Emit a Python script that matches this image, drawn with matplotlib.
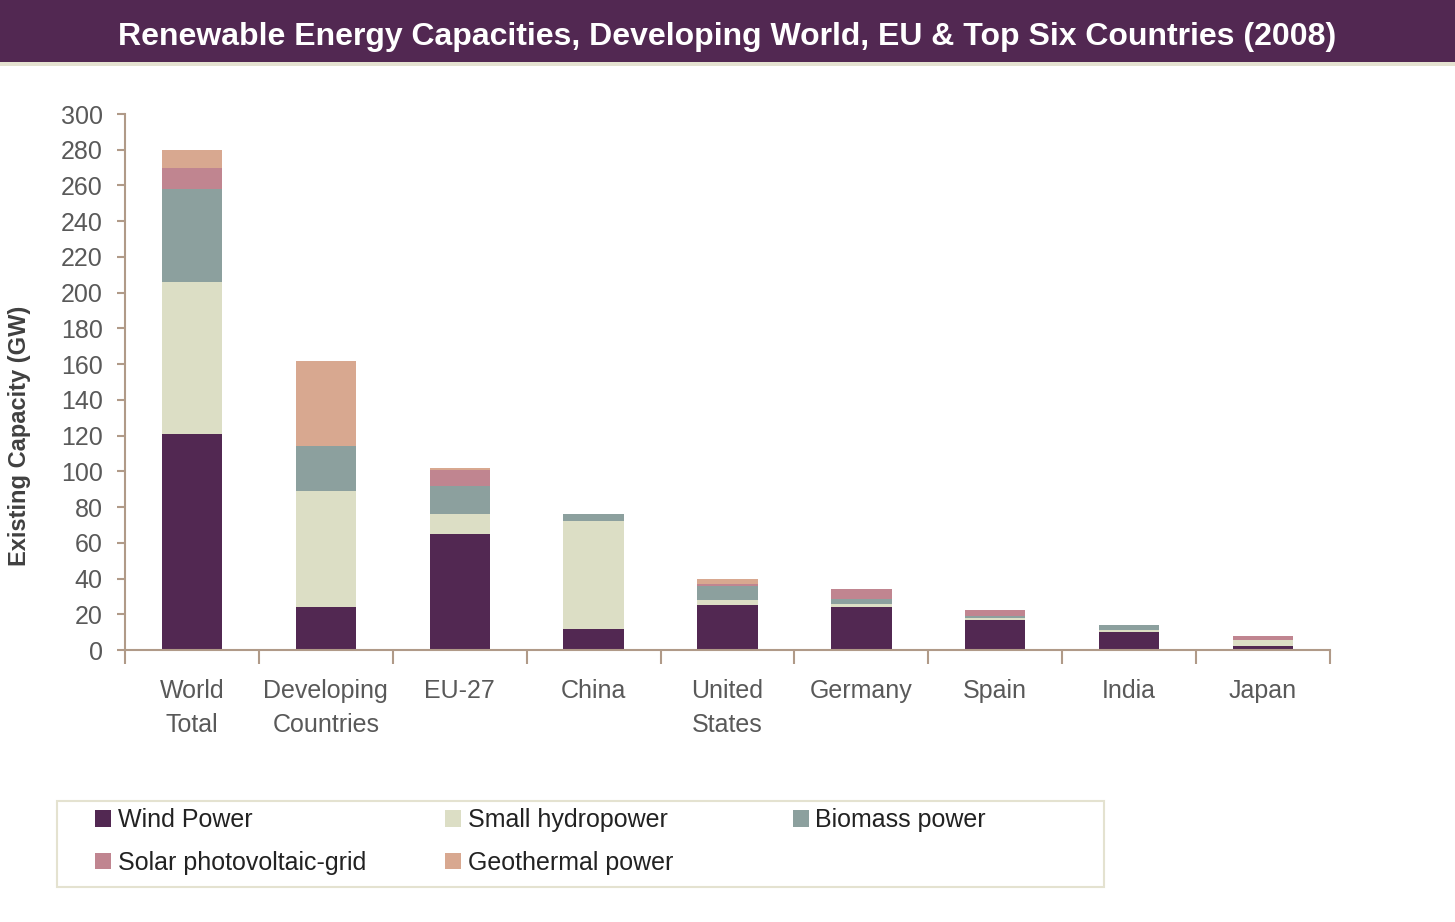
import numpy as np
import matplotlib.pyplot as plt
from matplotlib.patches import Rectangle

plt.rcParams['font.family'] = ['Liberation Sans', 'DejaVu Sans']

categories = ["World\nTotal", "Developing\nCountries", "EU-27", "China", "United\nStates",
              "Germany", "Spain", "India", "Japan"]
wind = [121, 24, 65, 12, 25, 24, 17, 10, 2]
small_hydro = [85, 65, 11, 60, 3, 2, 1, 1, 3.5]
biomass = [52, 25, 16, 4, 8, 2.5, 1, 3, 0]
solar = [12, 0, 9, 0, 1, 5.5, 3.5, 0, 2.5]
geothermal = [10, 48, 1, 0, 2.5, 0, 0, 0, 0]

series = [
    ("Wind Power", wind, "#522852"),
    ("Small hydropower", small_hydro, "#dcdec5"),
    ("Biomass power", biomass, "#8ca09e"),
    ("Solar photovoltaic-grid", solar, "#c08590"),
    ("Geothermal power", geothermal, "#d8a890"),
]

W, H = 1455, 922
fig = plt.figure(figsize=(W / 100, H / 100), dpi=100)

# title band
fig.patches.append(Rectangle((0, 1 - 62 / H), 1, 62 / H, transform=fig.transFigure,
                             facecolor="#522852", edgecolor="none", zorder=0))
fig.patches.append(Rectangle((0, 1 - 66 / H), 1, 4 / H, transform=fig.transFigure,
                             facecolor="#e4e2d0", edgecolor="none", zorder=0))
fig.text(0.5, 1 - 37 / H, "Renewable Energy Capacities, Developing World, EU & Top Six Countries (2008)",
         ha="center", va="center", color="white", fontsize=23, fontweight="bold")

ax = fig.add_axes([125 / W, 1 - 650 / H, 1205 / W, 536 / H])
x = np.arange(len(categories))
bottom = np.zeros(len(categories))
handles = {}
for name, vals, col in series:
    vals = np.array(vals, dtype=float)
    b = ax.bar(x, vals, 0.45, bottom=bottom, color=col, label=name, zorder=2)
    handles[name] = b
    bottom += vals

axis_col = "#b09a88"
ax.set_xlim(-0.5, len(categories) - 0.5)
ax.set_ylim(0, 300)
ax.set_yticks(np.arange(0, 301, 20))
ax.tick_params(axis="y", colors=axis_col, labelcolor="#595959", labelsize=18,
               length=6, width=1.5, pad=10)
ax.set_xticks(x)
ax.set_xticklabels(categories, fontsize=18, color="#595959", linespacing=1.5)
ax.tick_params(axis="x", which="major", length=0, pad=21)
ax.set_xticks(np.arange(-0.5, len(categories), 1), minor=True)
ax.tick_params(axis="x", which="minor", length=10, width=1.5, color=axis_col)
for s in ["top", "right"]:
    ax.spines[s].set_visible(False)
for s in ["left", "bottom"]:
    ax.spines[s].set_color(axis_col)
    ax.spines[s].set_linewidth(1.5)
ax.set_ylabel("Existing Capacity (GW)", fontsize=17, fontweight="bold", color="#404040")
ax.yaxis.set_label_coords(-94 / 1205, 0.40)

# legend frame and three single-column legends
fig.patches.append(Rectangle((57 / W, 1 - 887 / H), 1047 / W, 86 / H, transform=fig.transFigure,
                             facecolor="white", edgecolor="#e4e2d0", linewidth=1.5, zorder=1))
columns = [["Wind Power", "Solar photovoltaic-grid"],
           ["Small hydropower", "Geothermal power"],
           ["Biomass power"]]
col_x = [95, 445, 793]
for cx, names in zip(col_x, columns):
    leg = fig.legend([handles[n] for n in names], names, loc="upper left",
                     bbox_to_anchor=(cx / W, 1 - 808 / H), fontsize=18, frameon=False,
                     handlelength=0.65, handleheight=0.65, handletextpad=0.25,
                     borderaxespad=0, borderpad=0, labelspacing=0.75)
    for t in leg.get_texts():
        t.set_color("#222222")

fig.savefig("out.png", dpi=100)
